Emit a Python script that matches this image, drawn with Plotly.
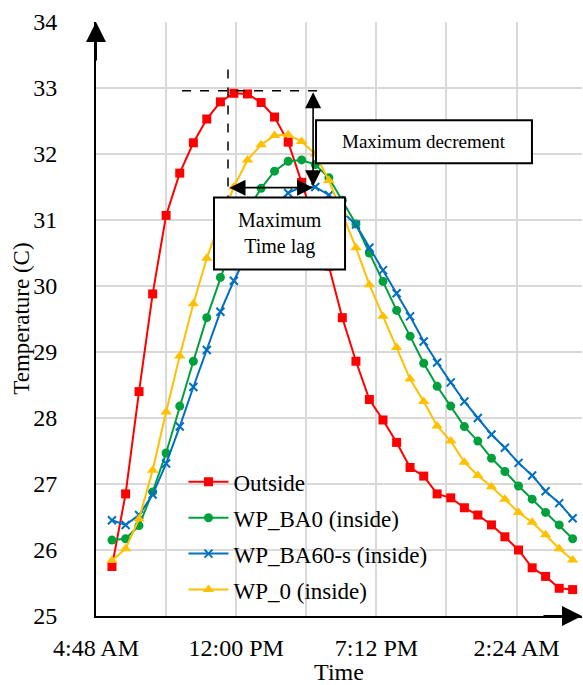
import plotly.graph_objects as go

# time of day in hours (values > 24 are after midnight of the next day)
time_h = [5.62, 6.32, 7.01, 7.71, 8.40, 9.10, 9.80, 10.49, 11.19, 11.88,
          12.58, 13.28, 13.97, 14.67, 15.36, 16.06, 16.76, 17.45, 18.15, 18.84,
          19.54, 20.24, 20.93, 21.63, 22.32, 23.02, 23.72, 24.41, 25.11, 25.80,
          26.50, 27.20, 27.89, 28.59, 29.28]

outside = [25.75, 26.85, 28.40, 29.88, 31.07, 31.71, 32.17, 32.53, 32.79, 32.92,
           32.91, 32.78, 32.56, 32.18, 31.57, 30.95, 30.30, 29.52, 28.86, 28.28,
           27.97, 27.63, 27.25, 27.12, 26.85, 26.79, 26.64, 26.53, 26.38, 26.20,
           26.00, 25.73, 25.60, 25.42, 25.40]

wp_ba0 = [26.15, 26.17, 26.37, 26.88, 27.47, 28.18, 28.86, 29.52, 30.13, 30.70,
          31.15, 31.48, 31.74, 31.89, 31.91, 31.84, 31.64, 31.30, 30.94, 30.50,
          30.07, 29.63, 29.24, 28.83, 28.48, 28.18, 27.87, 27.65, 27.39, 27.19,
          26.97, 26.77, 26.57, 26.38, 26.17]

wp_ba60s = [26.45, 26.38, 26.53, 26.84, 27.31, 27.87, 28.47, 29.03, 29.61, 30.08,
            30.50, 30.90, 31.20, 31.41, 31.50, 31.50, 31.38, 31.12, 30.93, 30.58,
            30.24, 29.89, 29.54, 29.16, 28.84, 28.54, 28.25, 28.00, 27.75, 27.55,
            27.32, 27.13, 26.89, 26.71, 26.48]

wp_0 = [25.84, 26.02, 26.47, 27.21, 28.09, 28.94, 29.73, 30.42, 31.00, 31.50,
        31.91, 32.14, 32.28, 32.29, 32.19, 32.00, 31.60, 31.10, 30.58, 30.02,
        29.54, 29.07, 28.59, 28.25, 27.88, 27.65, 27.33, 27.13, 26.96, 26.77,
        26.57, 26.42, 26.23, 26.02, 25.85]

series_names = ["Outside", "WP_BA0 (inside)", "WP_BA60-s (inside)", "WP_0 (inside)"]
series_colors = ["#FF0000", "#00A03C", "#0070C0", "#FFC000"]

x_tickvals = [4.8, 8.4, 12.0, 15.6, 19.2, 22.8, 26.4]
x_ticktext = ["4:48 AM", "", "12:00 PM", "", "7:12 PM", "", "2:24 AM"]
y_tickvals = [25, 26, 27, 28, 29, 30, 31, 32, 33, 34]

FONT = "Liberation Serif, Times New Roman, serif"

fig = go.Figure()
markers = [
    dict(symbol="square", size=9),
    dict(symbol="circle", size=9),
    dict(symbol="x-thin", size=8, line=dict(width=2, color=series_colors[2])),
    dict(symbol="triangle-up", size=10),
]
for name, vals, col, mk, g in zip(series_names, [outside, wp_ba0, wp_ba60s, wp_0],
                                  series_colors, markers, range(4)):
    mk = dict(mk)
    mk["color"] = col
    fig.add_trace(go.Scatter(x=time_h, y=vals, name=name, mode="lines+markers",
                             line=dict(color=col, width=2), marker=mk,
                             legendgroup=str(g)))

# annotation geometry (data coordinates)
peak_t, lag_end_t = 11.58, 15.95
peak_T, lag_T = 32.96, 31.49

shapes = [
    dict(type="line", x0=9.22, x1=16.56, y0=peak_T, y1=peak_T,
         line=dict(color="black", width=1.5, dash="dash"), layer="above"),
    dict(type="line", x0=peak_t, x1=peak_t, y0=33.28, y1=31.34,
         line=dict(color="black", width=1.5, dash="dash"), layer="above"),
    dict(type="rect", x0=16.1, x1=27.19, y0=31.86, y1=32.51,
         line=dict(color="black", width=2), fillcolor="white", layer="above"),
    dict(type="rect", x0=10.86, x1=17.59, y0=30.25, y1=31.34,
         line=dict(color="black", width=2), fillcolor="white", layer="above"),
]

annotations = [
    # time lag double arrow
    dict(x=lag_end_t, y=lag_T, ax=peak_t, ay=lag_T, xref="x", yref="y",
         axref="x", ayref="y", showarrow=True, arrowhead=2, arrowside="end+start",
         arrowsize=2, arrowwidth=1.6, arrowcolor="black", text=""),
    # decrement double arrow
    dict(x=lag_end_t, y=31.51, ax=lag_end_t, ay=peak_T, xref="x", yref="y",
         axref="x", ayref="y", showarrow=True, arrowhead=2, arrowside="end+start",
         arrowsize=2, arrowwidth=1.6, arrowcolor="black", text=""),
    dict(x=(16.1 + 27.19) / 2, y=(31.86 + 32.51) / 2, xref="x", yref="y",
         text="Maximum decrement", showarrow=False,
         font=dict(family=FONT, size=19, color="black")),
    dict(x=(10.86 + 17.59) / 2, y=(30.25 + 31.34) / 2, xref="x", yref="y",
         text="Maximum<br>Time lag", showarrow=False,
         font=dict(family=FONT, size=20, color="black")),
    # y axis title
    dict(x=-0.155, y=0.5, xref="paper", yref="paper", text="Temperature (C)",
         textangle=-90, showarrow=False, xanchor="center", yanchor="middle",
         font=dict(family=FONT, size=23, color="black")),
    # axis arrowheads
    dict(x=0, y=1, ax=0, ay=40, xref="paper", yref="paper", showarrow=True,
         arrowhead=2, arrowsize=2, arrowwidth=2, arrowcolor="black", text=""),
    dict(x=1, y=0, ax=-40, ay=0, xref="paper", yref="paper", showarrow=True,
         arrowhead=2, arrowsize=2, arrowwidth=2, arrowcolor="black", text=""),
]

fig.update_layout(
    width=583, height=685,
    margin=dict(l=96, r=1, t=22, b=69),
    paper_bgcolor="white", plot_bgcolor="white",
    font=dict(family=FONT, size=24, color="black"),
    shapes=shapes, annotations=annotations,
    legend=dict(x=0.18, y=0.262, xanchor="left", yanchor="top",
                bgcolor="rgba(0,0,0,0)", font=dict(family=FONT, size=23),
                tracegroupgap=3, itemwidth=40),
    xaxis=dict(range=[4.8, 29.76], tickvals=x_tickvals, ticktext=x_ticktext,
               showgrid=True, gridcolor="#D9D9D9", gridwidth=2,
               showline=True, linecolor="black", linewidth=2, zeroline=False,
               ticks="", ticklabelstandoff=9, automargin=False,
               title=dict(text="Time", standoff=0, font=dict(size=24))),
    yaxis=dict(range=[25, 34], tickvals=y_tickvals,
               showgrid=True, gridcolor="#D9D9D9", gridwidth=2,
               showline=True, linecolor="black", linewidth=2, zeroline=False,
               ticks="", ticklabelstandoff=32, automargin=False),
)

fig.write_html("out.html", config={"displayModeBar": False},
               post_script="document.body.style.margin='0';document.body.style.overflow='hidden';")
